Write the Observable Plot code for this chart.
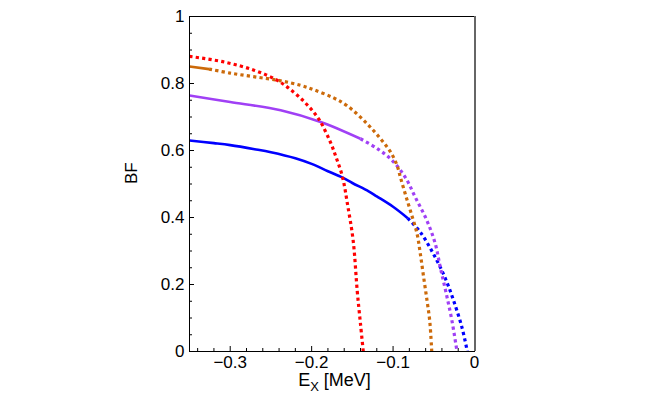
<!DOCTYPE html>
<html>
<head>
<meta charset="utf-8">
<script src="https://cdn.jsdelivr.net/npm/d3@7"></script>
<script src="https://cdn.jsdelivr.net/npm/@observablehq/plot@0.6"></script>
<style>
  html, body { margin: 0; padding: 0; background: white; }
</style>
</head>
<body>
<div id="chart"></div>
<script>
// Tick values
const xTicks = [-0.3, -0.2, -0.1, 0];
const xMinor = [-0.34, -0.32, -0.28, -0.26, -0.24, -0.22, -0.18, -0.16, -0.14, -0.12, -0.08, -0.06, -0.04, -0.02];
const yTicks = [0, 0.2, 0.4, 0.6, 0.8, 1];
const yMinor = [0.05, 0.1, 0.15, 0.25, 0.3, 0.35, 0.45, 0.5, 0.55, 0.65, 0.7, 0.75, 0.85, 0.9, 0.95];

// Series: [E (MeV), BF]
const blueSolid = [[-0.35,0.630],[-0.32,0.622],[-0.30,0.616],[-0.27,0.604],[-0.25,0.595],[-0.22,0.577],[-0.20,0.560],[-0.18,0.538],[-0.162,0.519],[-0.15,0.503],[-0.13,0.478],[-0.12,0.463],[-0.10,0.432],[-0.082,0.398]];
const blueDotted = [[-0.082,0.398],[-0.0665,0.356],[-0.046,0.271],[-0.0346,0.211],[-0.0257,0.152],[-0.0154,0.072],[-0.0088,0]];
const purpleSolid = [[-0.35,0.764],[-0.30,0.745],[-0.238,0.720],[-0.189,0.685],[-0.14,0.635]];
const purpleDotted = [[-0.14,0.635],[-0.119,0.605],[-0.101,0.570],[-0.085,0.520],[-0.0726,0.460],[-0.0583,0.390],[-0.0481,0.321],[-0.042,0.251],[-0.0346,0.172],[-0.0277,0.092],[-0.0215,0]];
const orangeSolid = [[-0.35,0.851],[-0.326,0.843]];
const orangeDotted = [[-0.326,0.843],[-0.30,0.831],[-0.27,0.820],[-0.238,0.808],[-0.213,0.794],[-0.197,0.781],[-0.173,0.757],[-0.156,0.733],[-0.132,0.680],[-0.1154,0.635],[-0.103,0.595],[-0.095,0.555],[-0.091,0.520],[-0.085,0.470],[-0.0787,0.420],[-0.0705,0.351],[-0.0665,0.291],[-0.0624,0.221],[-0.0583,0.152],[-0.055,0.092],[-0.053,0.022],[-0.0525,0]];
const redDotted = [[-0.35,0.881],[-0.307,0.864],[-0.27,0.839],[-0.242,0.809],[-0.222,0.774],[-0.205,0.735],[-0.191,0.693],[-0.177,0.625],[-0.17,0.580],[-0.162,0.520],[-0.156,0.440],[-0.149,0.331],[-0.144,0.180],[-0.14,0.082],[-0.1366,0]];

const colors = {blue: "#0000ff", purple: "#a040f5", orange: "#cc6a0a", red: "#ff0000"};

const W = 664, H = 399, mL = 189, mR = 190, mT = 16, mB = 48;
const innerW = W - mL - mR, innerH = H - mT - mB;

const fmt = d => d === 0 ? "0" : (d < 0 ? "\u2212" : "") + String(Math.abs(d));
const solidW = 2.6, dotW = 3.2, dash = "3.2,3.2";

const line = (data, color, dotted) => Plot.line(data, {
  x: d => d[0], y: d => d[1], stroke: color, curve: "catmull-rom",
  strokeWidth: dotted ? dotW : solidW,
  strokeDasharray: dotted ? dash : null,
  strokeLinecap: "butt"
});

const chart = Plot.plot({
  width: W, height: H,
  marginLeft: mL, marginRight: mR, marginTop: mT, marginBottom: mB,
  x: {domain: [-0.35, 0]},
  y: {domain: [0, 1]},
  style: {fontFamily: "'Liberation Sans', Arial, sans-serif", fontSize: "17px", color: "black", background: "white"},
  marks: [
    Plot.axisX(xTicks, {tickSize: 0, tickPadding: 4, tickFormat: fmt, fontSize: 17, label: null}),
    Plot.axisY(yTicks, {tickSize: 0, tickPadding: 5, tickFormat: fmt, fontSize: 17, label: null}),
    Plot.tickX(xTicks, {x: d => d, insetTop: innerH - 5, stroke: "black"}),
    Plot.tickX(xMinor, {x: d => d, insetTop: innerH - 3, stroke: "black"}),
    Plot.tickY(yTicks, {y: d => d, insetRight: innerW - 5, stroke: "black"}),
    Plot.tickY(yMinor, {y: d => d, insetRight: innerW - 3, stroke: "black"}),
    line(blueSolid, colors.blue, false),
    line(blueDotted, colors.blue, true),
    line(purpleSolid, colors.purple, false),
    line(purpleDotted, colors.purple, true),
    line(orangeSolid, colors.orange, false),
    line(orangeDotted, colors.orange, true),
    line(redDotted, colors.red, true),
    Plot.frame({stroke: "black", strokeWidth: 1}),
    Plot.ruleX([0], {stroke: "#666", strokeWidth: 2, dx: 0.5}),
    Plot.text(["BF"], {frameAnchor: "left", dx: -58, rotate: -90, text: d => d, fontSize: 17})
  ]
});

document.getElementById("chart").appendChild(chart);

// x-axis label with subscript
const svg = d3.select(chart);
const xl = svg.append("text")
  .attr("x", mL + innerW / 2 + 3)
  .attr("y", 386)
  .attr("text-anchor", "middle")
  .attr("font-size", 18)
  .attr("fill", "black");
xl.append("tspan").text("E");
xl.append("tspan").attr("font-size", 13).attr("dy", 5).text("X");
xl.append("tspan").attr("dy", -5).attr("dx", 5).text("[MeV]");
</script>
</body>
</html>
